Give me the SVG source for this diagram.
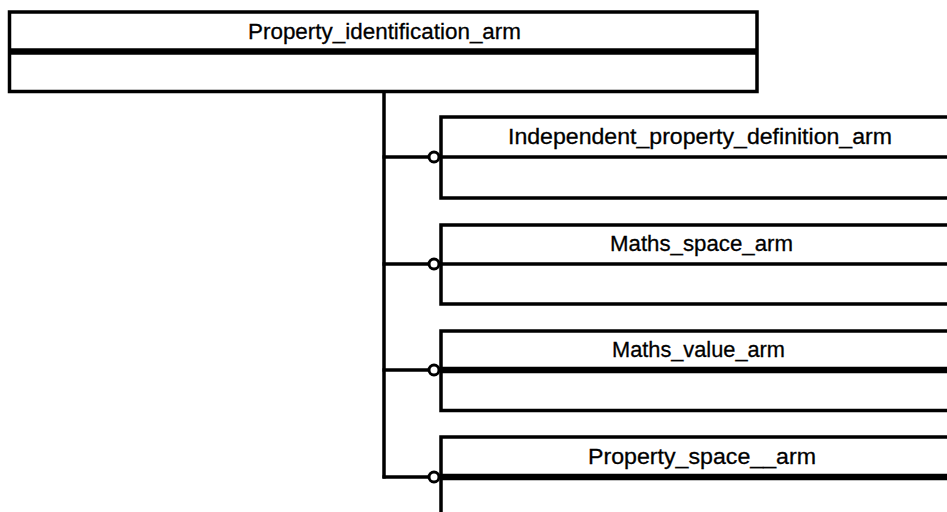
<svg xmlns="http://www.w3.org/2000/svg" width="947" height="512" viewBox="0 0 947 512">
<style>
.box{fill:#fff;stroke:#000;stroke-width:3.5}
.div{stroke:#000;stroke-width:3.5}
.thick{stroke:#000;stroke-width:6.5}
.lbl{font-family:"Liberation Sans",Arial,sans-serif;font-size:22.8px;fill:#000;stroke:#000;stroke-width:0.3;text-anchor:middle}
.con{stroke:#000;stroke-width:3.5;fill:none}
.dot{fill:#fff;stroke:#000;stroke-width:3}
</style>
<rect width="947" height="512" fill="#fff"/>
<g id="Property_identification_arm">
<rect class="box" x="9.5" y="12" width="747.5" height="79.5"/>
<line class="thick" x1="9.5" y1="51.5" x2="757" y2="51.5"/>
<text class="lbl" x="384.5" y="39" textLength="273" lengthAdjust="spacingAndGlyphs">Property_identification_arm</text>
</g>
<g id="Independent_property_definition_arm">
<rect class="box" x="441" y="117" width="518" height="81"/>
<line class="div" x1="441" y1="157" x2="959" y2="157"/>
<text class="lbl" x="700" y="144" textLength="384" lengthAdjust="spacingAndGlyphs">Independent_property_definition_arm</text>
</g>
<g id="Maths_space_arm">
<rect class="box" x="441" y="225" width="518" height="79"/>
<line class="div" x1="441" y1="264" x2="959" y2="264"/>
<text class="lbl" x="701.5" y="251" textLength="183" lengthAdjust="spacingAndGlyphs">Maths_space_arm</text>
</g>
<g id="Maths_value_arm">
<rect class="box" x="441" y="331" width="518" height="79.5"/>
<line class="thick" x1="441" y1="370" x2="959" y2="370"/>
<text class="lbl" x="698.5" y="357" textLength="173" lengthAdjust="spacingAndGlyphs">Maths_value_arm</text>
</g>
<g id="Property_space__arm">
<rect class="box" x="441" y="437" width="518" height="90"/>
<line class="thick" x1="441" y1="477" x2="959" y2="477"/>
<text class="lbl" x="702" y="464" textLength="228" lengthAdjust="spacingAndGlyphs">Property_space__arm</text>
</g>
<g id="connectors">
<line class="con" x1="384" y1="91.5" x2="384" y2="478.5"/>
<line class="con" x1="382.5" y1="157" x2="429" y2="157"/>
<line class="con" x1="382.5" y1="264" x2="429" y2="264"/>
<line class="con" x1="382.5" y1="370" x2="429" y2="370"/>
<line class="con" x1="382.5" y1="477" x2="429" y2="477"/>
<circle class="dot" cx="434" cy="157" r="5"/>
<circle class="dot" cx="434" cy="264" r="5"/>
<circle class="dot" cx="434" cy="370" r="5"/>
<circle class="dot" cx="434" cy="477" r="5"/>
</g>
</svg>
